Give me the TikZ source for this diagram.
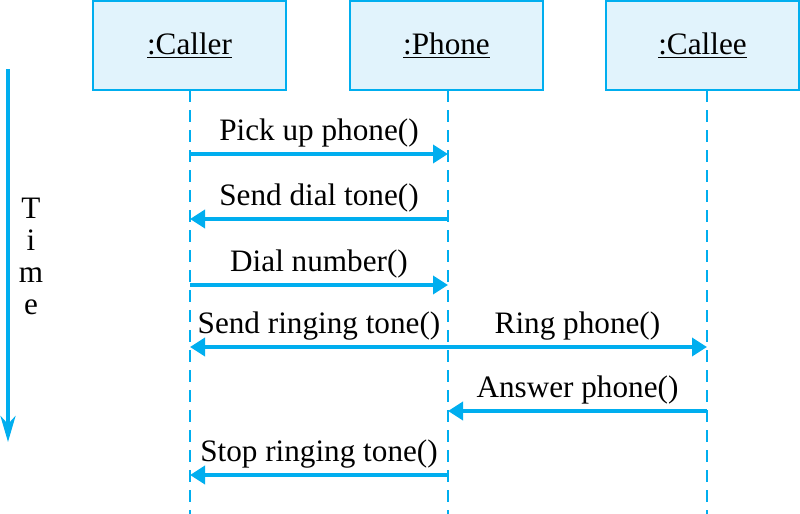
\documentclass[tikz,border=0pt]{standalone}
\usepackage{fontspec}
\setmainfont{Liberation Serif}
\usetikzlibrary{arrows.meta}

\definecolor{umlcyan}{RGB}{0,174,239}
\definecolor{umlfill}{RGB}{225,243,252}

\tikzset{
  objbox/.style={draw=umlcyan, fill=umlfill, line width=0.7pt,
    minimum width=96.5pt, minimum height=44.5pt, inner sep=0pt},
  lifeline/.style={draw=umlcyan, line width=0.75pt, dash pattern=on 6pt off 4pt},
  msg/.style={draw=umlcyan, line width=1.8pt, -{Triangle[length=7.5pt,width=9pt]}},
  msglabel/.style={above, inner sep=2.5pt, text=black}
}

\begin{document}
\begin{tikzpicture}[x=0.5pt,y=-0.5pt,font=\fontsize{15.6}{16}\selectfont]
   \useasboundingbox (0,0) rectangle (800,514);

   % objects
   \node[objbox] (caller) at (189.5,45.5) {\underline{:Caller}};
   \node[objbox] (phone)  at (446.5,45.5) {\underline{:Phone}};
   \node[objbox] (callee) at (702.5,45.5) {\underline{:Callee}};

   % lifelines
   \coordinate (caT) at (190,90); \coordinate (caB) at (190,514);
   \coordinate (phT) at (448,90); \coordinate (phB) at (448,514);
   \coordinate (ceT) at (707,90); \coordinate (ceB) at (707,514);
   \draw[lifeline] (caT) -- (caB);
   \draw[lifeline] (phT) -- (phB);
   \draw[lifeline] (ceT) -- (ceB);

   % time axis
   \coordinate (t0) at (8,69);
   \coordinate (t1) at (8,442);
   \draw[draw=umlcyan, line width=1.8pt, -{Stealth[length=13pt,width=7.5pt,inset=4pt]}] (t0) -- (t1);
   \node[anchor=north, align=center, inner sep=0pt] (time) at (31,198) {T\\i\\m\\e};

   % message ends
   \coordinate (ca1) at (190,154); \coordinate (ph1) at (448,154);
   \coordinate (ca2) at (190,219); \coordinate (ph2) at (448,219);
   \coordinate (ca3) at (190,285); \coordinate (ph3) at (448,285);
   \coordinate (ca4) at (190,347); \coordinate (ph4) at (448,347);
   \coordinate (ce4) at (707,347);
   \coordinate (ph5) at (448,411); \coordinate (ce5) at (707,411);
   \coordinate (ca6) at (190,475); \coordinate (ph6) at (448,475);

   % messages
   \path (ca1) edge[msg] node[msglabel] {Pick up phone()} (ph1);
   \path (ph2) edge[msg] node[msglabel] {Send dial tone()} (ca2);
   \path (ca3) edge[msg] node[msglabel] {Dial number()} (ph3);
   \path (ph4) edge[msg] node[msglabel] {Send ringing tone()} (ca4);
   \path (ph4) edge[msg] node[msglabel] {Ring phone()} (ce4);
   \path (ce5) edge[msg] node[msglabel] {Answer phone()} (ph5);
   \path (ph6) edge[msg] node[msglabel] {Stop ringing tone()} (ca6);
\end{tikzpicture}
\end{document}
